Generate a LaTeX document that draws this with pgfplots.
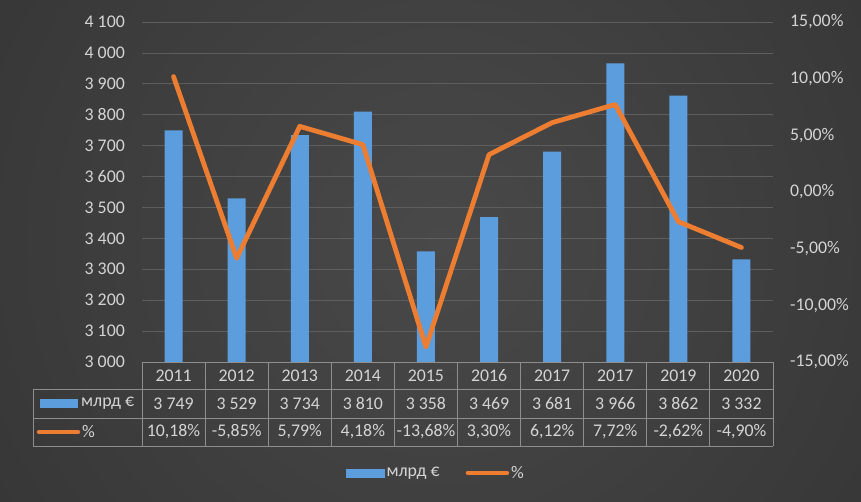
\documentclass[border=0pt]{standalone}
\usepackage{pgfplots}
\pgfplotsset{compat=1.18}
\usepackage{fontspec}
\setmainfont{Carlito}
\definecolor{barblue}{HTML}{5C9DDE}
\definecolor{lineorange}{HTML}{ED7D31}
\definecolor{txt}{HTML}{D4D4D4}
\definecolor{gridc}{HTML}{5E5E5E}
\definecolor{tablec}{HTML}{8E8E8E}
\definecolor{bgin}{HTML}{494949}
\definecolor{bgout}{HTML}{262626}
\newcommand\fs{\fontsize{17.8}{21}\selectfont}
\begin{document}
\begin{tikzpicture}
\begin{scope}
\clip (0,0) rectangle (861pt,502pt);
\shade[inner color=bgin, outer color=bgout] (440pt,260pt) circle (1000pt);
\end{scope}
\begin{axis}[
  at={(142pt,140pt)}, anchor=south west, scale only axis,
  width=631pt, height=340pt,
  xmin=-0.5, xmax=9.5, ymin=3000, ymax=4100,
  xtick=\empty,
  ytick={3000,3100,3200,3300,3400,3500,3600,3700,3800,3900,4000,4100},
  yticklabels={3 000,3 100,3 200,3 300,3 400,3 500,3 600,3 700,3 800,3 900,4 000,4 100},
  axis line style={draw=none}, major tick length=0pt,
  ymajorgrids, grid style={color=gridc, line width=0.7pt},
  yticklabel style={text=txt, font=\fs, inner sep=0pt, xshift=-17pt},
  ybar, bar width=18pt,
]
\addplot[fill=barblue, draw=none] coordinates {
 (0,3749) (1,3529) (2,3734) (3,3810) (4,3358) (5,3469) (6,3681) (7,3966) (8,3862) (9,3332)};
\end{axis}
\begin{axis}[
  at={(142pt,140pt)}, anchor=south west, scale only axis,
  width=631pt, height=340pt,
  xmin=-0.5, xmax=9.5, ymin=-15, ymax=15,
  axis y line*=right, axis x line=none,
  axis line style={draw=none}, major tick length=0pt,
  ytick={-15,-10,-5,0,5,10,15},
  yticklabels={-15{,}00\%,-10{,}00\%,-5{,}00\%,0{,}00\%,5{,}00\%,10{,}00\%,15{,}00\%},
  yticklabel style={text=txt, font=\fs, inner sep=0pt, xshift=17pt, anchor=west},
  legend style={at={(0.466,-0.326)}, anchor=center, draw=none, fill=none,
    font=\fs, text=txt, legend columns=2,
    nodes={inner sep=2pt},
    /tikz/every even column/.append style={column sep=24pt}},
]
\addlegendimage{legend image code/.code={\fill[barblue] (0pt,-4pt) rectangle (38pt,4pt);}}
\addlegendentry{млрд €}
\addplot[lineorange, line width=4.8pt, line join=round, line cap=round, mark=none,
  legend image code/.code={\draw[lineorange, line width=4.5pt, line cap=round] (2pt,0pt) -- (41pt,0pt);}]
 coordinates {(0,10.18) (1,-5.85) (2,5.79) (3,4.18) (4,-13.68) (5,3.30) (6,6.12) (7,7.72) (8,-2.62) (9,-4.90)};
\addlegendentry{\%}
\end{axis}
% data table
\begin{scope}[x=1pt, y=1pt]
\begin{scope}[tablec, line width=0.9pt]
\draw (142,140) -- (773,140);
\draw (33,113) -- (773,113);
\draw (33,84) -- (773,84);
\draw (33,56) -- (773,56);
\draw (33,113) -- (33,56);
\foreach \k in {0,...,10} {\draw ({142+63.1*\k},140) -- ({142+63.1*\k},56);}
\end{scope}
\foreach \t [count=\i from 0] in {2011,2012,2013,2014,2015,2016,2017,2017,2019,2020}
  {\node[text=txt, font=\fs, inner sep=0pt] at ({142+63.1*(\i+0.5)},126.5) {\t};}
\foreach \t [count=\i from 0] in {3 749,3 529,3 734,3 810,3 358,3 469,3 681,3 966,3 862,3 332}
  {\node[text=txt, font=\fs, inner sep=0pt] at ({142+63.1*(\i+0.5)},98.5) {\t};}
\foreach \t [count=\i from 0] in {10{,}18\%,-5{,}85\%,5{,}79\%,4{,}18\%,-13{,}68\%,3{,}30\%,6{,}12\%,7{,}72\%,-2{,}62\%,-4{,}90\%}
  {\node[text=txt, font=\fs, inner sep=0pt] at ({142+63.1*(\i+0.5)},70) {\t};}
\fill[barblue] (40,94) rectangle (78,103);
\node[text=txt, font=\fs, inner sep=0pt, anchor=west] at (81,98.5) {млрд €};
\draw[lineorange, line width=4.5pt, line cap=round] (39,70) -- (78,70);
\node[text=txt, font=\fs, inner sep=0pt, anchor=west] at (82,70) {\%};
\end{scope}
\pgfresetboundingbox
\path[use as bounding box] (0,0) rectangle (861pt,502pt);
\end{tikzpicture}
\end{document}
